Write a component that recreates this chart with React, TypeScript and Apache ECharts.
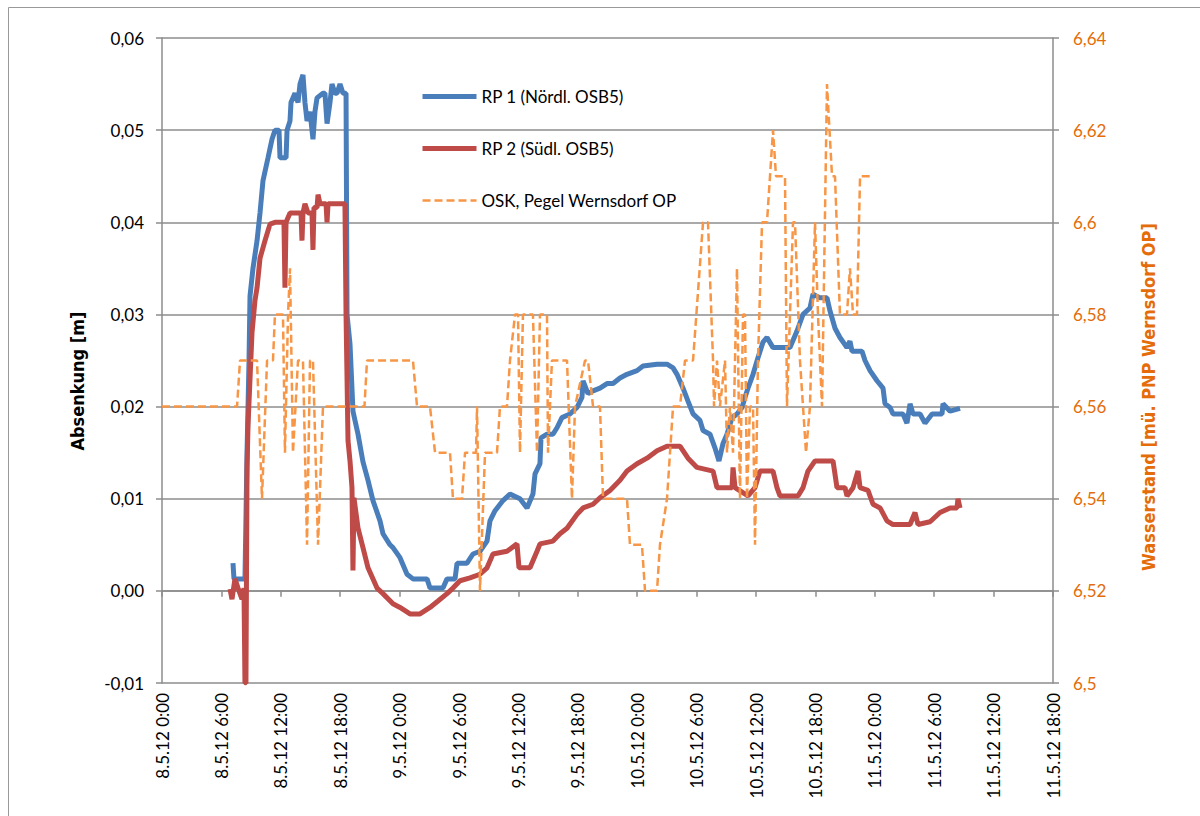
import React, { useEffect, useRef } from "react";
import * as echarts from "echarts";

// x values: hours after 8.5.12 0:00
const xTickHours = [0, 6, 12, 18, 24, 30, 36, 42, 48, 54, 60, 66, 72, 78, 84, 90];

const rp1: [number, number][] = [
  [7.17, 0.003], [7.27, 0.0013], [8.28, 0.0013], [8.38, 0.0013], [8.59, 0.015], [8.79, 0.025], [8.89, 0.032],
  [9.19, 0.035], [9.6, 0.038], [9.9, 0.041], [10.2, 0.0445], [10.71, 0.047], [11.11, 0.049], [11.41, 0.05],
  [11.82, 0.05], [11.92, 0.047], [12.53, 0.047], [12.63, 0.05], [12.93, 0.051], [13.03, 0.053], [13.43, 0.054],
  [13.74, 0.053], [13.94, 0.055], [14.24, 0.056], [14.44, 0.053], [14.65, 0.051], [14.95, 0.052], [15.25, 0.049],
  [15.45, 0.052], [15.66, 0.0535], [16.26, 0.054], [16.46, 0.054], [16.67, 0.0507], [16.97, 0.053], [17.17, 0.055],
  [17.47, 0.054], [17.68, 0.054], [17.98, 0.055], [18.28, 0.054], [18.59, 0.054], [18.69, 0.03], [18.99, 0.0268],
  [19.29, 0.0195], [19.8, 0.017], [20.3, 0.014], [20.81, 0.012], [21.31, 0.0098], [22.02, 0.0076], [22.32, 0.0062],
  [23.03, 0.005], [23.33, 0.0047], [24.04, 0.0036], [24.75, 0.0018], [25.35, 0.0013], [26.77, 0.0013], [27.07, 0.0003],
  [28.38, 0.0003], [28.79, 0.0013], [29.6, 0.0013], [29.8, 0.003], [30.81, 0.003], [31.41, 0.004], [32.12, 0.0043],
  [32.83, 0.0054], [33.13, 0.0076], [33.64, 0.0087], [34.44, 0.0098], [35.15, 0.0105], [36.16, 0.01], [36.87, 0.009],
  [37.47, 0.0105], [37.68, 0.0127], [38.18, 0.0138], [38.28, 0.0166], [38.89, 0.017], [39.49, 0.017], [39.9, 0.0177],
  [40.4, 0.0188], [41.21, 0.0192], [41.92, 0.0199], [42.42, 0.021], [42.53, 0.0228], [43.03, 0.0214], [43.54, 0.0217],
  [44.24, 0.022], [44.95, 0.0225], [45.56, 0.0225], [46.26, 0.0231], [46.97, 0.0235], [47.98, 0.0239], [48.59, 0.0244],
  [50.0, 0.0246], [51.01, 0.0246], [51.62, 0.0242], [52.02, 0.0235], [52.63, 0.022], [53.13, 0.0206], [53.64, 0.0192],
  [54.34, 0.0185], [54.65, 0.0174], [55.35, 0.017], [55.86, 0.0155], [56.26, 0.0141], [56.67, 0.016], [57.07, 0.017],
  [57.58, 0.0188], [58.08, 0.0192], [58.59, 0.0199], [58.89, 0.021], [59.19, 0.022], [59.7, 0.0235], [60.2, 0.0253],
  [60.71, 0.027], [61.11, 0.0275], [61.72, 0.0264], [63.43, 0.0264], [64.14, 0.0282], [64.75, 0.03], [65.45, 0.0307],
  [65.76, 0.0322], [66.46, 0.0318], [67.17, 0.0318], [67.47, 0.0304], [67.98, 0.0285], [68.48, 0.0275], [69.19, 0.0264],
  [69.49, 0.0271], [69.7, 0.026], [70.71, 0.026], [71.01, 0.025], [71.52, 0.0239], [72.22, 0.0228], [72.83, 0.022],
  [73.03, 0.0203], [73.54, 0.0199], [73.84, 0.0192], [74.85, 0.0192], [75.25, 0.0182], [75.56, 0.0203], [75.86, 0.0192],
  [76.57, 0.0192], [77.07, 0.0182], [77.78, 0.0192], [78.79, 0.0192], [78.89, 0.0203], [79.6, 0.0195], [80.61, 0.0198],
];

const rp2: [number, number][] = [
  [6.87, 0.0002], [7.07, -0.0009], [7.37, 0.0013], [7.68, 0.0003], [8.08, -0.0009], [8.28, 0.0003], [8.38, -0.01],
  [8.48, -0.01], [8.59, 0.0134], [8.69, 0.018], [9.09, 0.028], [9.39, 0.0315], [9.6, 0.0329], [9.9, 0.0361],
  [10.4, 0.038], [10.91, 0.0398], [11.41, 0.04], [12.32, 0.04], [12.42, 0.0329], [12.53, 0.04], [12.93, 0.041],
  [14.04, 0.041], [14.14, 0.038], [14.24, 0.041], [14.44, 0.042], [14.75, 0.041], [15.15, 0.041], [15.25, 0.037],
  [15.35, 0.0416], [15.66, 0.0416], [15.76, 0.043], [15.96, 0.042], [16.57, 0.042], [16.67, 0.04], [16.77, 0.042],
  [18.48, 0.042], [18.59, 0.03], [18.79, 0.0163], [18.99, 0.0141], [19.19, 0.0112], [19.29, 0.0022], [19.39, 0.0101],
  [19.8, 0.0068], [20.3, 0.0047], [20.81, 0.0025], [21.72, 0.0003], [22.32, -0.0003], [23.33, -0.0014], [24.04, -0.0018],
  [25.05, -0.0025], [26.06, -0.0025], [27.07, -0.0018], [27.88, -0.0011], [28.79, -0.0003], [29.39, 0.0003],
  [30.1, 0.0011], [31.11, 0.0014], [32.12, 0.0018], [32.83, 0.0025], [33.43, 0.004], [34.85, 0.0043], [35.86, 0.0051],
  [36.06, 0.0025], [37.17, 0.0025], [37.88, 0.0043], [38.18, 0.0051], [39.49, 0.0054], [40.2, 0.0062], [40.91, 0.0068],
  [41.92, 0.0083], [42.53, 0.009], [43.54, 0.0094], [44.24, 0.0101], [45.25, 0.0109], [46.26, 0.012], [46.97, 0.013],
  [47.98, 0.0138], [48.99, 0.0144], [50.0, 0.0152], [51.01, 0.0157], [52.32, 0.0157], [53.13, 0.0144], [54.04, 0.0134],
  [55.66, 0.013], [56.06, 0.0112], [57.58, 0.0112], [57.68, 0.0134], [57.88, 0.0112], [59.19, 0.0103], [59.9, 0.0112],
  [60.4, 0.013], [61.72, 0.013], [62.12, 0.0112], [62.42, 0.0103], [64.24, 0.0103], [64.75, 0.0112], [65.25, 0.013],
  [65.96, 0.0141], [67.78, 0.0141], [68.18, 0.0112], [68.99, 0.0112], [69.19, 0.0103], [69.8, 0.0112], [70.3, 0.013],
  [70.51, 0.0112], [71.31, 0.0109], [71.82, 0.0094], [72.53, 0.009], [73.23, 0.0076], [73.84, 0.0072], [75.56, 0.0072],
  [76.06, 0.0085], [76.36, 0.0072], [77.58, 0.0075], [78.59, 0.0085], [79.6, 0.009], [80.3, 0.009], [80.4, 0.01],
  [80.61, 0.009],
];

const osk: [number, number][] = [
  [0, 6.56], [7.58, 6.56], [7.88, 6.57], [9.6, 6.57], [10.1, 6.54], [10.61, 6.57], [11.21, 6.57], [11.41, 6.58],
  [12.22, 6.58], [12.42, 6.55], [12.73, 6.58], [12.93, 6.59], [13.23, 6.55], [13.74, 6.57], [14.24, 6.57],
  [14.65, 6.53], [14.95, 6.57], [15.25, 6.57], [15.76, 6.53], [16.26, 6.56], [20.45, 6.56], [20.71, 6.57],
  [25.35, 6.57], [25.76, 6.56], [27.07, 6.56], [27.58, 6.55], [29.09, 6.55], [29.39, 6.54], [30.3, 6.54],
  [30.61, 6.55], [31.72, 6.55], [31.82, 6.56], [32.12, 6.52], [32.63, 6.55], [33.84, 6.55], [34.14, 6.56],
  [34.85, 6.56], [35.15, 6.57], [35.66, 6.58], [35.96, 6.58], [36.16, 6.55], [36.46, 6.58], [37.47, 6.58],
  [37.88, 6.55], [38.18, 6.58], [38.89, 6.58], [38.99, 6.55], [39.39, 6.57], [40.91, 6.57], [41.41, 6.54],
  [41.72, 6.56], [42.73, 6.57], [43.03, 6.57], [43.54, 6.56], [44.24, 6.56], [44.55, 6.54], [46.97, 6.54],
  [47.27, 6.53], [48.48, 6.53], [48.79, 6.52], [50.0, 6.52], [50.3, 6.53], [51.01, 6.54], [51.62, 6.56],
  [52.32, 6.56], [52.83, 6.57], [53.64, 6.57], [54.65, 6.6], [55.15, 6.6], [55.66, 6.57], [55.76, 6.56],
  [56.06, 6.57], [56.36, 6.56], [56.87, 6.57], [57.07, 6.55], [57.37, 6.56], [57.68, 6.55], [58.08, 6.59],
  [58.38, 6.54], [58.69, 6.58], [58.89, 6.58], [59.09, 6.54], [59.39, 6.56], [59.7, 6.56], [59.9, 6.53],
  [60.2, 6.57], [60.61, 6.6], [61.11, 6.6], [61.72, 6.62], [62.02, 6.61], [62.93, 6.61], [63.13, 6.56],
  [63.74, 6.6], [63.94, 6.6], [64.44, 6.57], [64.75, 6.56], [65.05, 6.55], [65.45, 6.56], [65.96, 6.6],
  [66.26, 6.58], [66.67, 6.56], [67.17, 6.63], [67.68, 6.61], [67.98, 6.61], [68.48, 6.58], [69.19, 6.58],
  [69.49, 6.59], [69.8, 6.58], [70.2, 6.58], [70.51, 6.61], [71.52, 6.61],
];

const seriesNames = ["RP 1 (Nördl. OSB5)", "RP 2 (Südl. OSB5)", "OSK, Pegel Wernsdorf OP"];
const leftTitle = "Absenkung [m]";
const rightTitle = "Wasserstand [mü. PNP Wernsdorf OP]";

const BLUE = "#4A7EBB";
const RED = "#BE4B48";
const ORANGE = "#F79646";
const ORANGE_TXT = "#E46C0A";
const GRID = "#8C8C8C";
const LABEL_FONT = "Lato, 'Open Sans', sans-serif";
const TITLE_FONT = "'Liberation Sans Narrow', 'DejaVu Sans Condensed', sans-serif";

function hourLabel(h: number): string {
  const day = 8 + Math.floor(h / 24);
  const hr = Math.round(h % 24);
  return `${day}.5.12 ${hr}:00`;
}

export default function App() {
  const ref = useRef<HTMLDivElement>(null);
  useEffect(() => {
    if (!ref.current) return;
    const chart = echarts.init(ref.current, undefined, { renderer: "svg" });
    chart.setOption({
      animation: false,
      backgroundColor: "#fff",
      grid: { left: 162, right: 147, top: 38, bottom: 133, containLabel: false },
      legend: {
        orient: "vertical",
        left: 415,
        top: 83,
        itemWidth: 54,
        itemHeight: 14,
        itemGap: 35,
        data: seriesNames,
        itemStyle: { opacity: 0 },
        lineStyle: { width: "inherit" },
        textStyle: { fontFamily: LABEL_FONT, fontSize: 17, color: "#000" },
      },
      xAxis: {
        type: "value",
        min: 0,
        max: 90,
        interval: 6,
        axisLine: { lineStyle: { color: GRID, width: 1.5 } },
        axisTick: { show: true, length: 6, lineStyle: { color: GRID, width: 1.5 } },
        splitLine: { show: false },
        axisLabel: {
          rotate: 90,
          margin: 10,
          fontFamily: LABEL_FONT,
          fontSize: 17,
          color: "#000",
          formatter: (v: number) => (xTickHours.includes(v) ? hourLabel(v) : ""),
        },
      },
      yAxis: [
        {
          type: "value",
          min: -0.01,
          max: 0.06,
          interval: 0.01,
          position: "left",
          axisLine: { show: true, lineStyle: { color: GRID, width: 1.5 } },
          axisTick: { show: true, length: 6, lineStyle: { color: GRID, width: 1.5 } },
          splitLine: { show: true, lineStyle: { color: GRID, width: 1.5 } },
          axisLabel: {
            margin: 18,
            fontFamily: LABEL_FONT,
            fontSize: 17,
            color: "#000",
            formatter: (v: number) => v.toFixed(2).replace(".", ","),
          },
        },
        {
          type: "value",
          min: 6.5,
          max: 6.64,
          interval: 0.02,
          position: "right",
          axisLine: { show: true, lineStyle: { color: GRID, width: 1.5 } },
          axisTick: { show: true, length: 6, lineStyle: { color: GRID, width: 1.5 } },
          splitLine: { show: false },
          axisLabel: {
            margin: 20,
            fontFamily: LABEL_FONT,
            fontSize: 17,
            color: ORANGE_TXT,
            formatter: (v: number) => String(parseFloat(v.toFixed(2))).replace(".", ","),
          },
        },
      ],
      graphic: [
        {
          type: "rect",
          shape: { x: 8.5, y: 7.5, width: 1200, height: 830 },
          style: { fill: "none", stroke: "#999", lineWidth: 1 },
          silent: true,
        },
        {
          type: "text",
          x: 77,
          y: 381,
          rotation: Math.PI / 2,
          style: {
            text: leftTitle,
            font: `bold 18px ${TITLE_FONT}`,
            fill: "#000",
            align: "center",
            verticalAlign: "middle",
          },
        },
        {
          type: "text",
          x: 1148,
          y: 397,
          rotation: Math.PI / 2,
          style: {
            text: rightTitle,
            font: `bold 18px ${TITLE_FONT}`,
            fill: ORANGE_TXT,
            align: "center",
            verticalAlign: "middle",
          },
        },
      ],
      series: [
        {
          name: seriesNames[0],
          type: "line",
          data: rp1,
          yAxisIndex: 0,
          symbol: "none",
          showSymbol: false,
          lineStyle: { color: BLUE, width: 5 },
          itemStyle: { color: BLUE },
        },
        {
          name: seriesNames[1],
          type: "line",
          data: rp2,
          yAxisIndex: 0,
          symbol: "none",
          showSymbol: false,
          lineStyle: { color: RED, width: 5 },
          itemStyle: { color: RED },
        },
        {
          name: seriesNames[2],
          type: "line",
          data: osk,
          yAxisIndex: 1,
          symbol: "none",
          showSymbol: false,
          lineStyle: { color: ORANGE, width: 2.5, type: [8, 4] },
          itemStyle: { color: ORANGE },
        },
      ],
    });
    return () => chart.dispose();
  }, []);
  return (
    <div
      ref={ref}
      style={{ position: "fixed", left: 0, top: 0, width: 1200, height: 816, background: "#fff" }}
    />
  );
}
